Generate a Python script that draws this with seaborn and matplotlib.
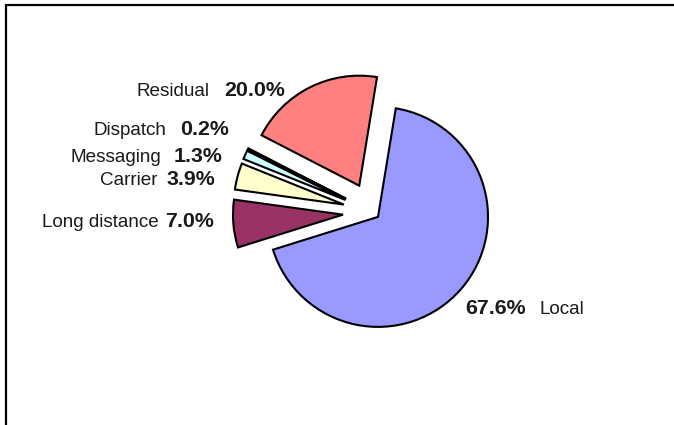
import matplotlib
matplotlib.use('Agg')
import matplotlib.pyplot as plt
import seaborn as sns
from matplotlib.patches import Rectangle

# slices in clockwise order starting at the top
categories = ['Local', 'Long distance', 'Carrier', 'Messaging', 'Dispatch', 'Residual']
shares = [67.6, 7.0, 3.9, 1.3, 0.2, 20.0]
colors = ['#9999FF', '#993366', '#FFFFCC', '#CCFFFF', '#660066', '#FF8080']
explode = [0.065, 0.27, 0.27, 0.27, 0.27, 0.27]

# label layout in pixels: (gap centre x, gap width, baseline y, value first?)
label_pos = [(532.6, 13.3, 314, True), (161.7, 6.7, 227, False),
             (162.2, 9.0, 185, False), (167.8, 12.3, 162, False),
             (173.0, 14.0, 135, False), (217.0, 14.0, 96, False)]

W, H = 674, 425
CX, CY, R = 372.6, 212.2, 110.0  # pie centre and radius in pixels

sns.set_style('white')
plt.rcParams['font.family'] = ['Liberation Sans', 'DejaVu Sans']

fig = plt.figure(figsize=(W / 100, H / 100), dpi=100)
ax = fig.add_axes([0, 0, 1, 1])

ax.pie(shares, colors=colors, explode=explode, startangle=80.7,
       counterclock=False, radius=1,
       wedgeprops=dict(edgecolor='black', linewidth=1.5))

ax.set_xlim(-CX / R, (W - CX) / R)
ax.set_ylim(-(H - CY) / R, CY / R)
ax.set_aspect('equal', adjustable='box')
ax.axis('off')


def px(x, y):
    return (x - CX) / R, (CY - y) / R


for name, val, (gx, gw, by, value_first) in zip(categories, shares, label_pos):
    x, y = px(gx, by)
    half = gw / 2 / R
    pct = f'{val:.1f}%'
    left, right = (pct, name) if value_first else (name, pct)
    ax.text(x - half, y, left, ha='right', va='baseline',
            fontsize=15.4 if value_first else 13.6,
            fontweight='bold' if value_first else 'normal', color='#1a1a1a')
    ax.text(x + half, y, right, ha='left', va='baseline',
            fontsize=13.6 if value_first else 15.4,
            fontweight='normal' if value_first else 'bold', color='#1a1a1a')

# open frame: top and left edges only visible
fig.patches.append(Rectangle((5.7 / W, -0.5), 2.0, 1.5 - 5 / H,
                             transform=fig.transFigure, fill=False,
                             edgecolor='black', linewidth=1.6))

fig.savefig('out.png', dpi=100)
plt.close(fig)
